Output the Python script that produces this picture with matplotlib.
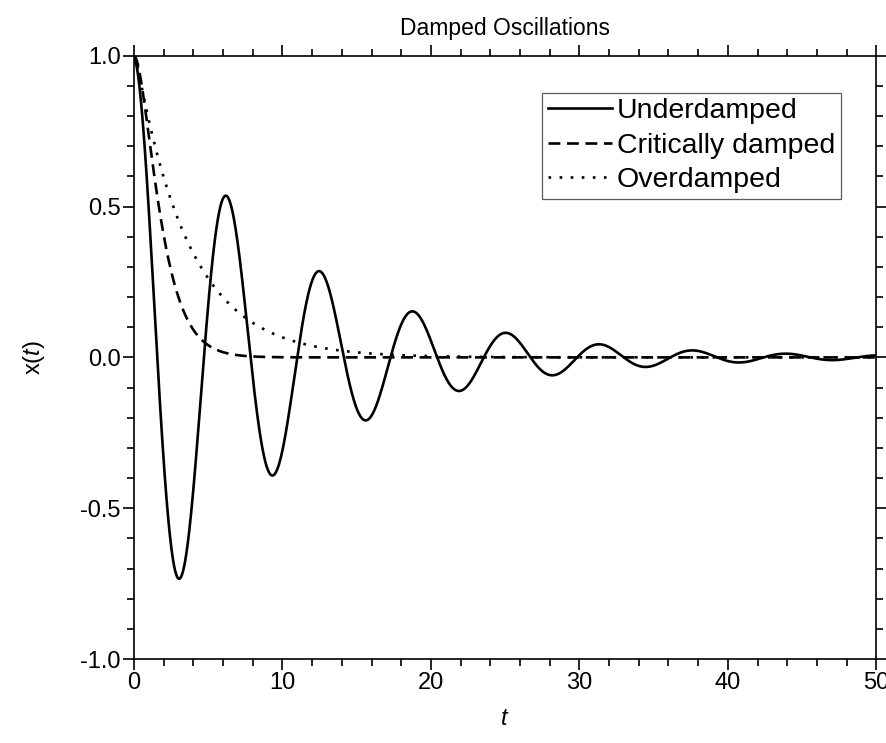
import numpy as np
import matplotlib
matplotlib.use("Agg")
from matplotlib import pyplot as plt
from matplotlib.ticker import MultipleLocator, FormatStrFormatter

plt.rcParams['font.family'] = ['Liberation Sans', 'DejaVu Sans']
plt.rcParams['mathtext.fontset'] = 'custom'
plt.rcParams['mathtext.it'] = 'Liberation Sans:italic'
plt.rcParams['mathtext.rm'] = 'Liberation Sans'

# model parameters
t = np.linspace(0, 50, 2001)
under_gamma = 0.1      # decay rate of the underdamped envelope
under_omega = 1.0      # angular frequency (period ~ 2*pi)
crit_rate = 1.0        # critically damped: (1 + a t) exp(-a t)
over_slow = 0.275      # overdamped: slow and fast roots
over_fast = 8.0

labels = ['Underdamped', 'Critically damped', 'Overdamped']

x_under = np.exp(-under_gamma * t) * np.cos(under_omega * t)
x_crit = (1 + crit_rate * t) * np.exp(-crit_rate * t)
x_over = (over_fast * np.exp(-over_slow * t) - over_slow * np.exp(-over_fast * t)) / (over_fast - over_slow)

fig = plt.figure(figsize=(8.87, 7.43), dpi=100)
ax = fig.add_axes([0.151, 0.113, 0.837, 0.812])

lw = 1.9
ax.plot(t, x_under, color='black', lw=lw, label=labels[0])
ax.plot(t, x_crit, color='black', lw=lw, linestyle=(0, (4.5, 2.5)), label=labels[1])
ax.plot(t, x_over, color='black', lw=lw, linestyle=(0, (1, 3.2)), label=labels[2])

ax.set_xlim(0, 50)
ax.set_ylim(-1.0, 1.0)
ax.xaxis.set_major_locator(MultipleLocator(10))
ax.xaxis.set_minor_locator(MultipleLocator(2))
ax.yaxis.set_major_locator(MultipleLocator(0.5))
ax.yaxis.set_minor_locator(MultipleLocator(0.1))
ax.yaxis.set_major_formatter(FormatStrFormatter('%.1f'))

for s in ax.spines.values():
    s.set_linewidth(1.2)
ax.tick_params(which='both', direction='out', top=True, right=True, width=1.2, labelsize=17)
ax.tick_params(which='major', length=8, pad=1.5)
ax.tick_params(which='minor', length=4.8)

ax.set_title('Damped Oscillations', fontsize=16.5, pad=15)
ax.set_xlabel(r'$t$', fontsize=17, labelpad=10)
ax.set_ylabel(r'x($t$)', fontsize=17, labelpad=24)

leg = ax.legend(loc='upper right', bbox_to_anchor=(0.952, 0.939), fontsize=20.5,
                frameon=True, fancybox=False, edgecolor='#333333', handlelength=2.25,
                handletextpad=0.18, borderpad=0.2, labelspacing=0.3, borderaxespad=0)
leg.get_frame().set_linewidth(0.9)

fig.savefig('out.png', dpi=100)
